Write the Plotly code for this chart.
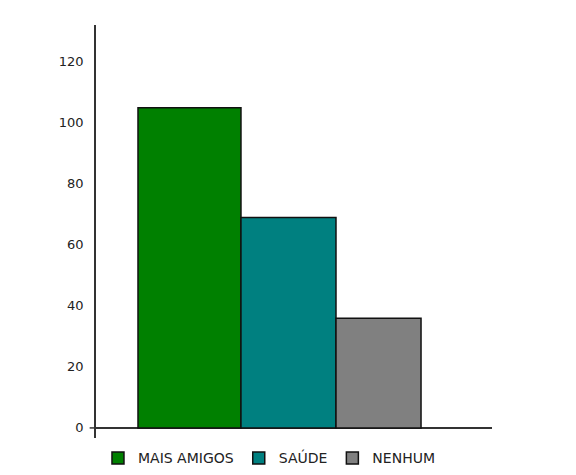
import plotly.graph_objects as go

categories = ["MAIS AMIGOS", "SAÚDE", "NENHUM"]
values = [105, 69, 36]
colors = ["#008000", "#008080", "#808080"]
bar_widths = [1.084, 1.0, 0.895]
bar_offsets = [-0.584, -0.5, -0.5]
y_ticks = [0, 20, 40, 60, 80, 100, 120]

fig = go.Figure()
for cat, val, col, w, o in zip(categories, values, colors, bar_widths, bar_offsets):
    fig.add_trace(go.Bar(
        x=[cat], y=[val], name=cat,
        marker=dict(color=col, line=dict(color="#111111", width=1.5)),
        width=[w], offset=[o],
    ))

fig.update_layout(
    width=576, height=475,
    margin=dict(l=96, r=84, t=25, b=37, autoexpand=False),
    paper_bgcolor="white", plot_bgcolor="white",
    barmode="overlay",
    font=dict(family="DejaVu Sans", size=13, color="#222222"),
    showlegend=True,
    legend=dict(orientation="h", x=0.005, xanchor="left", y=-0.088, yanchor="bottom",
                font=dict(size=14, color="#222222"), itemwidth=30,
                tracegroupgap=0, traceorder="normal"),
    xaxis=dict(type="category", categoryarray=categories, range=[-1.026, 3.142],
               showticklabels=False, showgrid=False, zeroline=False, showline=False,
               ticks=""),
    yaxis=dict(range=[-3.3, 132.1], tickvals=y_ticks, showgrid=False,
               zeroline=True, zerolinecolor="#333333", zerolinewidth=1.5,
               showline=True, linecolor="#333333", linewidth=1.5,
               ticks="", ticklabelstandoff=8),
    shapes=[dict(type="line", xref="paper", yref="y", x0=-0.016, x1=0, y0=0, y1=0,
                 line=dict(color="#333333", width=1.5))],
)

fig.write_html("out.html")
